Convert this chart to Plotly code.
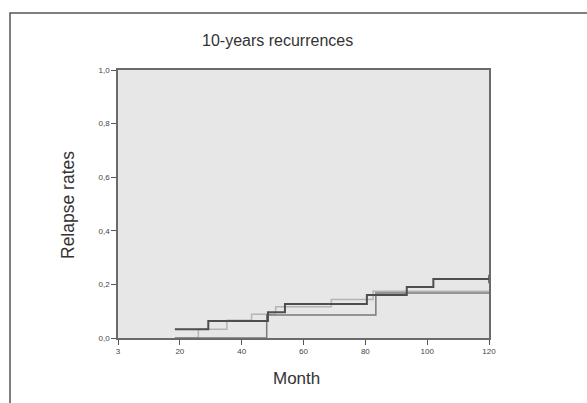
import plotly.graph_objects as go

# ---- data ----
dark_months = [18.4, 29.2, 48.5, 54.0, 80.5, 93.4, 102.0, 120.0]
dark_rates = [0.033, 0.063, 0.096, 0.127, 0.160, 0.190, 0.220, 0.220]

light_months = [18.4, 26.0, 35.2, 43.2, 51.0, 69.0, 82.5, 120.0]
light_rates = [0.0, 0.033, 0.066, 0.089, 0.117, 0.144, 0.174, 0.174]

medium_months = [18.4, 48.1, 83.4, 120.0]
medium_rates = [0.0, 0.086, 0.168, 0.168]

x_tick_vals = [0, 20, 40, 60, 80, 100, 120]
x_tick_text = ["3", "20", "40", "60", "80", "100", "120"]
y_tick_vals = [0.0, 0.2, 0.4, 0.6, 0.8, 1.0]
y_tick_text = ["0,0", "0,2", "0,4", "0,6", "0,8", "1,0"]

title_text = "10-years recurrences"
x_title = "Month"
y_title = "Relapse rates"

# ---- geometry ----
W, H = 587, 403
L, R, T, B = 118, 489, 70, 338
pw, ph = R - L, B - T


def px(x):
    return (x - L) / pw


def py(y):
    return (B - y) / ph


fig = go.Figure()
fig.add_trace(go.Scatter(x=light_months, y=light_rates, mode="lines",
                         line=dict(color="#b4b4b4", width=1.5, shape="hv"),
                         showlegend=False))
fig.add_trace(go.Scatter(x=medium_months, y=medium_rates, mode="lines",
                         line=dict(color="#7a7a7a", width=1.5, shape="hv"),
                         showlegend=False))
fig.add_trace(go.Scatter(x=dark_months, y=dark_rates, mode="lines",
                         line=dict(color="#4e4e4e", width=2, shape="hv"),
                         showlegend=False))
fig.add_trace(go.Scatter(x=[dark_months[-1]], y=[dark_rates[-1]], mode="markers",
                         marker=dict(symbol="line-ns-open", size=6, color="#4e4e4e",
                                     line=dict(color="#4e4e4e", width=1.5)),
                         showlegend=False, cliponaxis=False))

axis_common = dict(showgrid=False, zeroline=False, showline=True, mirror=True,
                   linecolor="#6a6a6a", linewidth=1.5, ticks="outside",
                   ticklen=5, tickwidth=1, tickcolor="#555555",
                   tickfont=dict(family="Liberation Sans, Arial", size=8, color="#444444"))

fig.update_xaxes(range=[0, 120], tickvals=x_tick_vals, ticktext=x_tick_text, **axis_common)
fig.update_yaxes(range=[0, 1.0], tickvals=y_tick_vals, ticktext=y_tick_text, **axis_common)

fig.update_layout(
    width=W, height=H,
    margin=dict(l=L, r=W - R, t=T, b=H - B, pad=0),
    plot_bgcolor="#e7e7e7", paper_bgcolor="white",
    font=dict(family="Liberation Sans, Arial", color="#333333"),
    shapes=[dict(type="rect", xref="paper", yref="paper",
                 x0=px(10), y0=py(13), x1=px(640), y1=py(460),
                 line=dict(color="#555555", width=1.5), layer="below")],
    annotations=[
        dict(text=title_text, xref="paper", yref="paper", x=px(277), y=py(40),
             showarrow=False, font=dict(size=16, color="#333333"),
             xanchor="center", yanchor="middle"),
        dict(text=x_title, xref="paper", yref="paper", x=px(296), y=py(378),
             showarrow=False, font=dict(size=17, color="#333333"),
             xanchor="center", yanchor="middle"),
        dict(text=y_title, xref="paper", yref="paper", x=px(68), y=py(205),
             showarrow=False, font=dict(size=17.5, color="#333333"), textangle=-90,
             xanchor="center", yanchor="middle"),
    ],
)

fig.write_html("out.html", config={"displayModeBar": False},
               post_script="document.body.style.margin='0px';document.body.style.overflow='hidden';")
